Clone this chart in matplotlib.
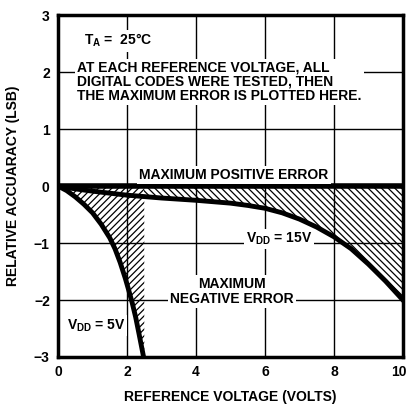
import numpy as np
import matplotlib
matplotlib.use('Agg')
import matplotlib.pyplot as plt
from matplotlib.patches import Rectangle
import matplotlib.transforms as mtrans

plt.rcParams['font.family'] = 'Liberation Sans'
plt.rcParams['font.weight'] = 'bold'
plt.rcParams['mathtext.fontset'] = 'custom'
plt.rcParams['mathtext.rm'] = 'Liberation Sans:bold'
plt.rcParams['mathtext.it'] = 'Liberation Sans:bold'
plt.rcParams['mathtext.bf'] = 'Liberation Sans:bold'
plt.rcParams['hatch.linewidth'] = 0.9

# maximum negative error, VDD = 15V
v15_x = [0, 0.5, 1, 2, 3, 4, 5, 5.5, 6, 6.5, 7, 7.5, 8, 8.5, 9, 9.5, 10]
v15_y = [0, -0.05, -0.09, -0.16, -0.21, -0.25, -0.30, -0.34, -0.39, -0.47, -0.58, -0.72,
         -0.89, -1.10, -1.37, -1.67, -2.0]

# maximum negative error, VDD = 5V
v5_x = [0, 0.25, 0.5, 0.75, 1.0, 1.25, 1.5, 1.65, 1.8, 1.95, 2.05, 2.15, 2.25, 2.35, 2.48]
v5_y = [0, -0.08, -0.19, -0.32, -0.47, -0.67, -0.91, -1.10, -1.34, -1.62, -1.83, -2.05,
        -2.30, -2.60, -3.0]

# maximum positive error
pos_x = [0, 10]
pos_y = [0.0, 0.0]

x_ticks = [0, 2, 4, 6, 8, 10]
y_ticks = [-3, -2, -1, 0, 1, 2, 3]

fig = plt.figure(figsize=(4.09, 4.08), dpi=100)
ax = fig.add_axes([0.142, 0.125, 0.843, 0.838])

ax.set_xlim(0, 10)
ax.set_ylim(-3, 3)
ax.set_xticks(x_ticks)
ax.set_yticks(y_ticks)
ax.set_xticklabels([str(t) for t in x_ticks], fontweight='bold')
ax.set_yticklabels(['\u22123', '\u22122', '\u22121', '0', '1', '2', '3'], fontweight='bold')
ax.tick_params(length=0, labelsize=10, pad=6)
last = ax.get_xticklabels()[-1]
last.set_transform(last.get_transform() + mtrans.ScaledTranslation(-3 / 72, 0, fig.dpi_scale_trans))
ax.grid(True, color='black', linewidth=1.0)
ax.set_axisbelow(True)
for s in ax.spines.values():
    s.set_linewidth(2.5)

# hatched areas
f5 = ax.fill_betweenx(v5_y, v5_x, 2.5, facecolor='none', edgecolor='black',
                      hatch='/' * 5, linewidth=0, zorder=2)
f15 = ax.fill_between(v15_x, v15_y, 0, facecolor='none', edgecolor='black',
                      hatch='\\' * 5, linewidth=0, zorder=2)
clip = Rectangle((2.5, -3), 7.5, 3, transform=ax.transData)
f15.set_clip_path(clip)

ax.plot(pos_x, pos_y, color='black', linewidth=4, zorder=4, solid_capstyle='butt')
ax.plot(v15_x, v15_y, color='black', linewidth=3.5, zorder=4)
ax.plot(v5_x, v5_y, color='black', linewidth=3.5, zorder=4)

box = dict(facecolor='white', edgecolor='none', pad=1.5)
ax.text(0.75, 2.55, 'T$_\\mathregular{A}$ =  25\u00b0C', fontsize=10, ha='left', va='center', bbox=box, zorder=5)
ax.text(0.55, 2.2, 'AT EACH REFERENCE VOLTAGE, ALL\nDIGITAL CODES WERE TESTED, THEN\nTHE MAXIMUM ERROR IS PLOTTED HERE.',
        fontsize=10, ha='left', va='top', linespacing=1.0, bbox=box, zorder=5)
ax.text(5.1, 0.19, 'MAXIMUM POSITIVE ERROR', fontsize=10, ha='center', va='center', bbox=box, zorder=5)
ax.text(6.4, -0.93, 'V$_\\mathregular{DD}$ = 15V', fontsize=10, ha='center', va='center', bbox=box, zorder=5)
ax.text(5.05, -1.85, 'MAXIMUM\nNEGATIVE ERROR', fontsize=10, ha='center', va='center', linespacing=1.1, bbox=box, zorder=5)
ax.text(1.1, -2.45, 'V$_\\mathregular{DD}$ = 5V', fontsize=10, ha='center', va='center', bbox=box, zorder=5)

ax.set_xlabel('REFERENCE VOLTAGE (VOLTS)', fontsize=10, fontweight='bold', labelpad=8)
ax.set_ylabel('RELATIVE ACCUARACY (LSB)', fontsize=10, fontweight='bold', labelpad=10)

fig.savefig('out.png', dpi=100)
